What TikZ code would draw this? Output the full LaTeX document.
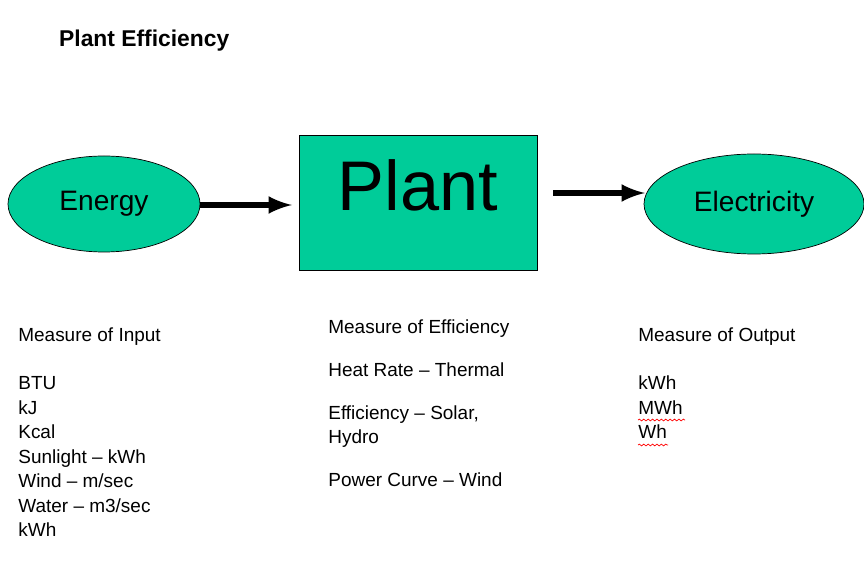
\documentclass[tikz,border=0pt]{standalone}
\usepackage{fontspec}
\setmainfont{Liberation Sans}
\usetikzlibrary{positioning,shapes.geometric,decorations.pathmorphing}
\definecolor{plantgreen}{RGB}{0,204,153}
\tikzset{
  blob/.style={ellipse,draw,fill=plantgreen,minimum width=192*0.02cm,minimum height=96*0.02cm,inner sep=0pt},
  flow/.style={line width=3.5pt,-latex},
  info/.style={anchor=north west,align=left,inner sep=0pt,font=\fontsize{10.8}{13.9}\selectfont},
  spell/.style={red,line width=0.4pt,decorate,decoration={snake,amplitude=0.5pt,segment length=2.5pt}}
}
\begin{document}
\begin{tikzpicture}[x=0.02cm,y=-0.02cm]
\useasboundingbox (0,0) rectangle (864,570);
\node[anchor=west,font=\bfseries\fontsize{13}{15}\selectfont] (title) at (53,41) {Plant Efficiency};
\node[blob] (energy) at (104,204) {\fontsize{16}{18}\selectfont Energy};
\node[blob,minimum width=220*0.02cm,minimum height=100*0.02cm] (elec) at (754,204) {\fontsize{16}{18}\selectfont Electricity};
\node[draw,fill=plantgreen,minimum width=238*0.02cm,minimum height=135*0.02cm,inner sep=0pt] (plant) at (418,202.5) {};
\node[font=\fontsize{40}{44}\selectfont] (plabel) at (418,185) {Plant};
\coordinate (a1) at (200,205); \coordinate (a2) at (292,205);
\coordinate (b1) at (553,193); \coordinate (b2) at (645,193);
\draw[flow] (a1) -- (a2);
\draw[flow] (b1) -- (b2);
% measures
\node[info] (input) at (18,327) {Measure of Input\\[13.9pt]BTU\\kJ\\Kcal\\Sunlight -- kWh\\Wind -- m/sec\\Water -- m3/sec\\kWh};
\node[info] (eff) at (328,319) {Measure of Efficiency\\[10.6pt]Heat Rate -- Thermal\\[10.6pt]Efficiency -- Solar,\\Hydro\\[10.6pt]Power Curve -- Wind};
\node[info] (output) at (638,327) {Measure of Output\\[13.9pt]kWh\\MWh\\Wh};
\coordinate (s1) at (638,420); \coordinate (s2) at (685,420);
\coordinate (s3) at (638,445); \coordinate (s4) at (668,445);
\draw[spell] (s1) -- (s2);
\draw[spell] (s3) -- (s4);
\end{tikzpicture}
\end{document}
